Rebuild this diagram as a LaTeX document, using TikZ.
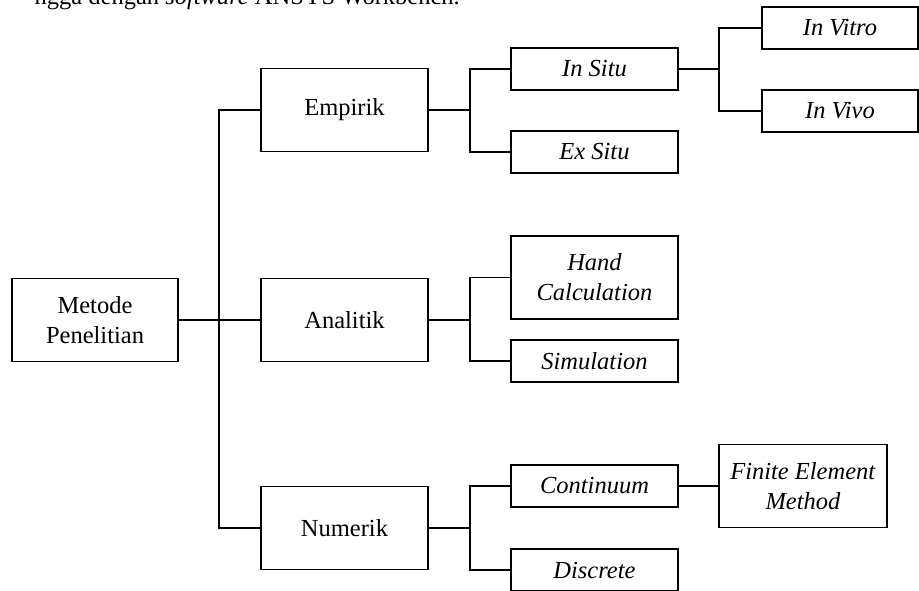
\documentclass[tikz,border=0pt]{standalone}
\usepackage{fontspec}
\setmainfont{Liberation Serif}
\begin{document}
\begin{tikzpicture}[x=1pt,y=-1pt,
  box/.style={draw=black, line width=1.5pt, rectangle, inner sep=0pt, align=center,
    font=\fontsize{24.5}{30}\selectfont},
  big/.style={box, minimum width=167pt, minimum height=83pt},
  small/.style={box, minimum width=167pt, minimum height=42pt},
  conn/.style={draw=black, line width=1.5pt}]
\useasboundingbox (0,0) rectangle (919,590);
\node[anchor=base east, inner sep=0pt, font=\fontsize{24.5}{30}\selectfont] (toptext) at (460,4) {ngga dengan \textit{software} ANSYS Workbench.};
\node[big, minimum width=166pt] (meto) at (95,320) {Metode\\Penelitian};
\node[big] (emp) at (344.5,110) {Empirik};
\node[big] (ana) at (344.5,320) {Analitik};
\node[big] (num) at (344.5,528) {Numerik};
\node[small] (insitu) at (594.5,69) {\textit{In Situ}};
\node[small] (exsitu) at (594.5,152) {\textit{Ex Situ}};
\node[big] (hand) at (594.5,277.5) {\textit{Hand}\\\textit{Calculation}};
\node[small] (sim) at (594.5,361) {\textit{Simulation}};
\node[small] (cont) at (594.5,486) {\textit{Continuum}};
\node[small] (disc) at (594.5,570) {\textit{Discrete}};
\node[small, minimum width=156pt] (vitro) at (840,28) {\textit{In Vitro}};
\node[small, minimum width=156pt] (vivo) at (840,111) {\textit{In Vivo}};
\node[big, minimum width=168pt] (fem) at (803,486) {\textit{Finite Element}\\\textit{Method}};
\coordinate (t) at (219,320);
\coordinate (j1) at (470,110);
\coordinate (j2) at (470,320);
\coordinate (j3) at (470,528);
\coordinate (j4) at (719,69);
\draw[conn] (meto.east) -- (ana.west);
\draw[conn] (emp.west) -| (t) |- (num.west);
\draw[conn] (emp.east) -- (j1);
\draw[conn] (insitu.west) -| (j1) |- (exsitu.west);
\draw[conn] (ana.east) -- (j2);
\draw[conn] (hand.west) -| (j2) |- (sim.west);
\draw[conn] (num.east) -- (j3);
\draw[conn] (cont.west) -| (j3) |- (disc.west);
\draw[conn] (insitu.east) -- (j4);
\draw[conn] (vitro.west) -| (j4) |- (vivo.west);
\draw[conn] (cont.east) -- (fem.west);
\end{tikzpicture}
\end{document}
